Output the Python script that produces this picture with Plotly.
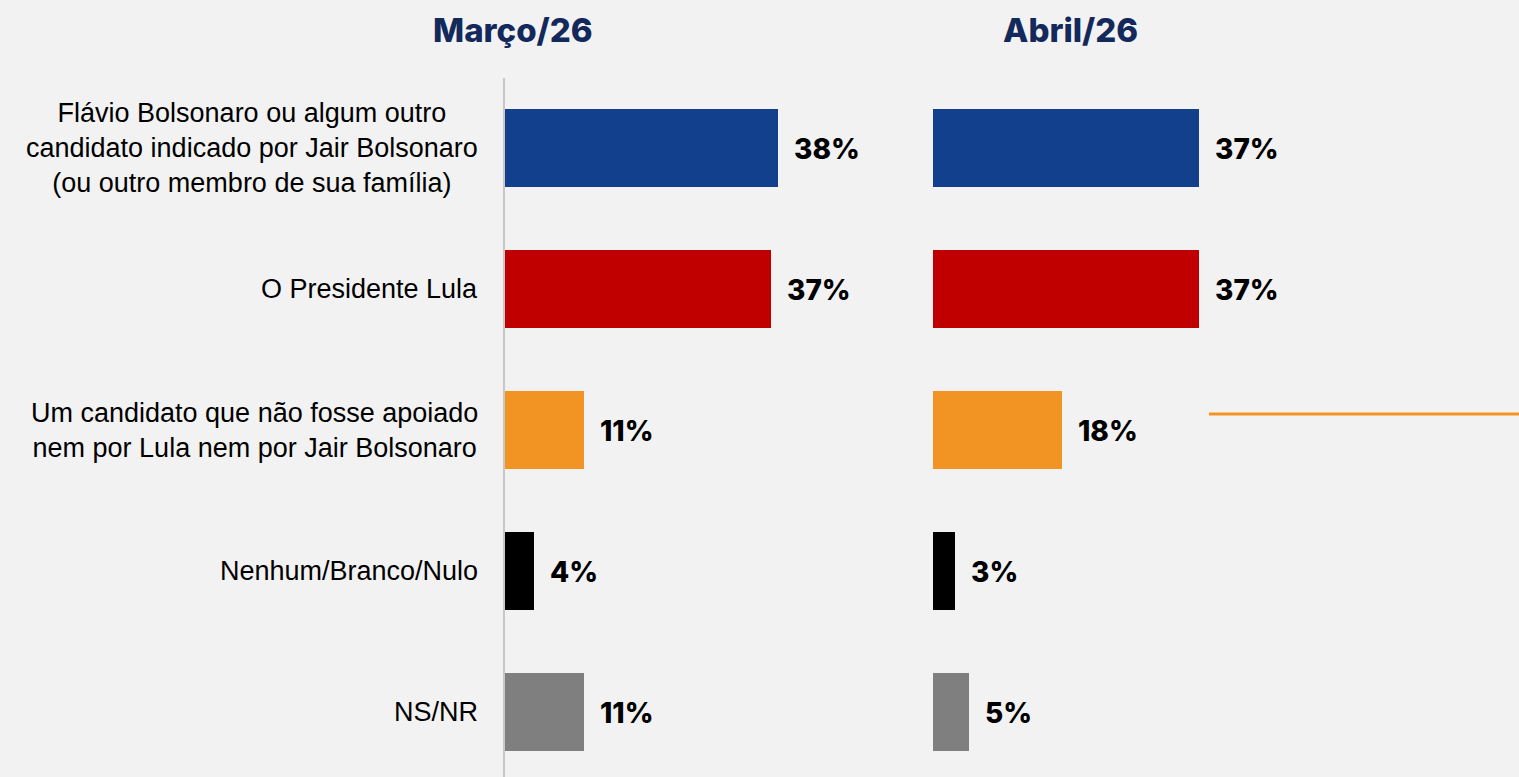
import plotly.graph_objects as go

# Data
categories = [
    "Flávio Bolsonaro ou algum outro<br>candidato indicado por Jair Bolsonaro<br>(ou outro membro de sua família)",
    "O Presidente Lula",
    "Um candidato que não fosse apoiado<br>nem por Lula nem por Jair Bolsonaro",
    "Nenhum/Branco/Nulo",
    "NS/NR",
]
marco_values = [38, 37, 11, 4, 11]
abril_values = [37, 37, 18, 3, 5]
periods = ["Março/26", "Abril/26"]
bar_colors = ["#12408C", "#C00000", "#F29423", "#000000", "#7F7F7F"]

W, H = 1519, 777
PX_PER_PCT = 7.18
BG = "#F2F2F2"
NAVY = "#13295B"
VALUE_FONT = dict(family="Inter", size=28, color="#000000", weight=800)
LABEL_FONT = dict(family="Arial, Liberation Sans", size=27, color="#000000")


def px_x(p):
    return p / W


# panel domains (pixels) -> ranges in % so both panels share the same scale
left_dom = (505, 900)
right_dom = (933, W)
left_range = [0, (left_dom[1] - left_dom[0]) / PX_PER_PCT]
right_range = [0, (right_dom[1] - right_dom[0]) / PX_PER_PCT]

fig = go.Figure()
annotations = []

for values, xa in [(marco_values, "x"), (abril_values, "x2")]:
    fig.add_trace(go.Bar(
        x=values, y=categories, orientation="h",
        marker=dict(color=bar_colors, line=dict(width=0)),
        width=0.55, xaxis=xa, yaxis="y", hoverinfo="skip",
    ))
    # value labels just right of each bar
    for v, cat in zip(values, categories):
        annotations.append(dict(
            text=f"{v}%", xref=xa, x=v, xanchor="left", xshift=14,
            yref="y", y=cat, yanchor="middle", yshift=-1,
            showarrow=False, font=VALUE_FONT,
        ))

for cat in categories:
    annotations.append(dict(
        text=cat, xref="paper", x=px_x(480), xanchor="right",
        yref="y", y=cat, yanchor="middle", align="center", showarrow=False,
        font=LABEL_FONT,
    ))

for title, cx in zip(periods, [513, 1070]):
    annotations.append(dict(
        text=title, xref="paper", x=px_x(cx), xanchor="center",
        yref="paper", y=1 - 30 / H, yanchor="middle", showarrow=False,
        font=dict(family="Inter", size=33, color=NAVY, weight=800),
    ))

shapes = [
    # vertical baseline of the left panel
    dict(type="line", xref="paper", x0=px_x(504), x1=px_x(504),
         yref="paper", y0=0, y1=1 - 78 / H,
         line=dict(color="#C8C8C8", width=2)),
    # orange arrow line to the right
    dict(type="line", xref="paper", x0=px_x(1209), x1=1.0,
         yref="paper", y0=1 - 414 / H, y1=1 - 414 / H,
         line=dict(color="#F29423", width=3)),
]

# y range so category centres land at 148, 289, ... px
step = 141
top_c = 148
y_top = -top_c / step
y_bot = (H - top_c) / step

fig.update_layout(
    width=W, height=H,
    margin=dict(l=0, r=0, t=0, b=0),
    paper_bgcolor=BG, plot_bgcolor=BG,
    showlegend=False,
    bargap=0,
    xaxis=dict(domain=[px_x(left_dom[0]), px_x(left_dom[1])], range=left_range,
               visible=False, fixedrange=True),
    xaxis2=dict(domain=[px_x(right_dom[0]), 1.0], range=right_range,
                visible=False, anchor="y", fixedrange=True),
    yaxis=dict(type="category", range=[y_bot, y_top], visible=False,
               fixedrange=True),
    annotations=annotations,
    shapes=shapes,
)

fig.write_html(
    "out.html",
    config={"displayModeBar": False},
    post_script="document.body.style.margin='0px';",
)
